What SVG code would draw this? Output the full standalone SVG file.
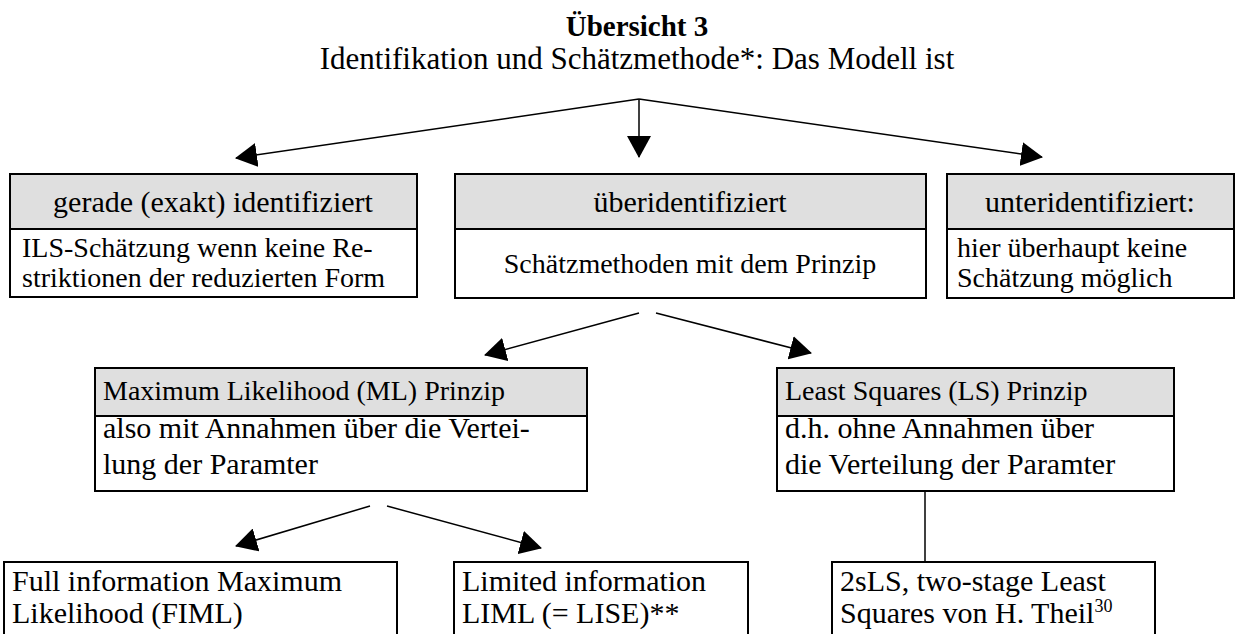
<svg xmlns="http://www.w3.org/2000/svg" width="1237" height="634" viewBox="0 0 1237 634">
<defs>
<style>
text{font-family:"Liberation Serif","Times New Roman",serif;font-size:30px;fill:#000}
.b{font-weight:bold;font-size:29px}
.sub{font-size:31px}
.m{text-anchor:middle}
.s{font-size:28px}
.h{fill:#dfdfdf;stroke:#000;stroke-width:2}
.w{fill:#fff;stroke:#000;stroke-width:2}
.c{stroke:#000;stroke-width:1.5;fill:none}
.sup{font-size:18px}
</style>
<marker id="ah" viewBox="0 0 22 24" markerWidth="22" markerHeight="24" refX="21" refY="12" orient="auto" markerUnits="userSpaceOnUse">
<path d="M0,0 L22,12 L0,24 z" fill="#000"/>
</marker>
</defs>
<rect width="1237" height="634" fill="#fff"/>
<g id="title">
<text class="b m" x="637" y="36">Übersicht 3</text>
<text class="sub m" x="637" y="69">Identifikation und Schätzmethode*: Das Modell ist</text>
</g>
<g id="connectors">
<line class="c" x1="639" y1="99" x2="236" y2="158" marker-end="url(#ah)"/>
<line class="c" x1="639" y1="99" x2="639" y2="157" marker-end="url(#ah)"/>
<line class="c" x1="639" y1="99" x2="1042" y2="157" marker-end="url(#ah)"/>
<line class="c" x1="639" y1="313" x2="485" y2="355" marker-end="url(#ah)"/>
<line class="c" x1="656" y1="313" x2="811" y2="353" marker-end="url(#ah)"/>
<line class="c" x1="370" y1="506" x2="236" y2="546" marker-end="url(#ah)"/>
<line class="c" x1="387" y1="506" x2="541" y2="548" marker-end="url(#ah)"/>
<line class="c" x1="925" y1="490" x2="925" y2="566"/>
</g>
<g id="gerade">
<rect class="h" x="10" y="174" width="407" height="55"/>
<rect class="w" x="10" y="229" width="407" height="68"/>
<text class="m" x="213" y="212">gerade (exakt) identifiziert</text>
<text class="s" x="22" y="257">ILS-Schätzung wenn keine Re-</text>
<text class="s" x="22" y="287">striktionen der reduzierten Form</text>
</g>
<g id="ueber">
<rect class="h" x="455" y="174" width="471" height="55"/>
<rect class="w" x="455" y="229" width="471" height="69"/>
<text class="m" x="690" y="212">überidentifiziert</text>
<text class="m s" x="690" y="273">Schätzmethoden mit dem Prinzip</text>
</g>
<g id="unter">
<rect class="h" x="947" y="174" width="287" height="55"/>
<rect class="w" x="947" y="229" width="287" height="69"/>
<text class="m" x="1090" y="212">unteridentifiziert:</text>
<text class="s" x="957" y="257">hier überhaupt keine</text>
<text class="s" x="957" y="287">Schätzung möglich</text>
</g>
<g id="ml">
<rect class="h" x="95" y="368" width="492" height="48"/>
<rect class="w" x="95" y="416" width="492" height="75"/>
<text class="s" x="103" y="400">Maximum Likelihood (ML) Prinzip</text>
<text x="103" y="438">also mit Annahmen über die Vertei-</text>
<text x="103" y="474">lung der Paramter</text>
</g>
<g id="ls">
<rect class="h" x="777" y="368" width="397" height="48"/>
<rect class="w" x="777" y="416" width="397" height="75"/>
<text class="s" x="785" y="400">Least Squares (LS) Prinzip</text>
<text x="785" y="438">d.h. ohne Annahmen über</text>
<text x="785" y="474">die Verteilung der Paramter</text>
</g>
<g id="fiml">
<rect class="w" x="4" y="562" width="393" height="80"/>
<text x="12" y="591">Full information Maximum</text>
<text x="12" y="623">Likelihood (FIML)</text>
</g>
<g id="liml">
<rect class="w" x="454" y="562" width="294" height="80"/>
<text x="462" y="591">Limited information</text>
<text x="462" y="623">LIML (= LISE)**</text>
</g>
<g id="tsls">
<rect class="w" x="832" y="562" width="323" height="80"/>
<text x="840" y="591">2sLS, two-stage Least</text>
<text x="840" y="623">Squares von H. Theil<tspan class="sup" dy="-11">30</tspan></text>
</g>
</svg>
